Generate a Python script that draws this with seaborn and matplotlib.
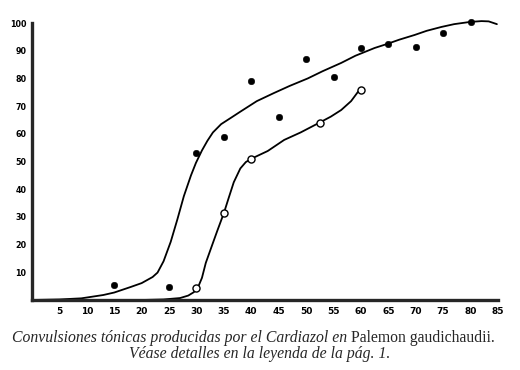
import numpy as np
import pandas as pd
import matplotlib
matplotlib.use('Agg')
import matplotlib.pyplot as plt
import seaborn as sns

# puntos observados (circulos llenos)
dose_full = [15, 25, 30, 35, 40, 45, 50, 55, 60, 65, 70, 75, 80]
pct_full = [5.5, 4.8, 53, 59, 79, 66, 87, 80.5, 91, 92.5, 91.5, 96.5, 100.5]

# puntos observados (circulos abiertos)
dose_open = [30, 35, 40, 52.5, 60]
pct_open = [4.2, 31.5, 51, 64, 76]

# curva trazada a mano (serie llena)
curve_full_x = [0, 5, 9, 13, 15, 18, 20, 22, 22.9, 24, 25.3, 26.5, 27.7, 29, 29.9, 31, 32,
                33, 34.5, 36.3, 38, 41, 44.1, 47, 50.3, 53, 56.4, 59, 62.5, 64.7, 67,
                69.8, 72, 74.7, 77, 79.9, 82, 83.3, 84.8]
curve_full_y = [0, 0.2, 0.6, 1.8, 2.7, 4.7, 6.1, 8.3, 9.9, 14, 21, 29, 37.5, 45, 49.5, 54, 57.5,
                60.5, 63.5, 65.8, 68, 71.8, 74.7, 77.3, 80, 82.6, 85.6, 88.2, 91, 92.4, 94,
                95.7, 97.2, 98.6, 99.6, 100.4, 100.7, 100.6, 99.6]

# curva trazada a mano (serie abierta)
curve_open_x = [0, 10, 20, 24, 27, 28.5, 29.5, 30.2, 31, 31.7, 33, 33.8, 35, 35.9, 36.8,
                38, 39, 40, 43, 46, 49, 52.4, 54.5, 56.4, 58.2, 59.7]
curve_open_y = [0, 0, 0, 0.2, 0.7, 1.6, 2.8, 4.2, 8, 13.4, 20.6, 25, 31.4, 37, 42.5,
                47.5, 49.8, 51, 53.8, 57.8, 60.5, 64, 66.2, 68.6, 71.8, 75.8]

x_ticks = [5, 10, 15, 20, 25, 30, 35, 40, 45, 50, 55, 60, 65, 70, 75, 80, 85]
y_ticks = [10, 20, 30, 40, 50, 60, 70, 80, 90, 100]

sns.set_style('white')
plt.rcParams['font.family'] = ['DejaVu Sans']

fig = plt.figure(figsize=(5.2, 3.7), dpi=100)
ax = fig.add_axes([32 / 520, 70 / 370, 466 / 520, 282.5 / 370])

df_cf = pd.DataFrame({'x': curve_full_x, 'y': curve_full_y})
df_co = pd.DataFrame({'x': curve_open_x, 'y': curve_open_y})
sns.lineplot(data=df_cf, x='x', y='y', ax=ax, color='black', lw=1.3, sort=False,
             estimator=None, clip_on=False)
sns.lineplot(data=df_co, x='x', y='y', ax=ax, color='black', lw=1.3, sort=False,
             estimator=None, clip_on=False)

sns.scatterplot(x=dose_full, y=pct_full, ax=ax, color='black', s=22,
                edgecolor='black', zorder=5, clip_on=False)
sns.scatterplot(x=dose_open, y=pct_open, ax=ax, color='white', s=26,
                edgecolor='black', linewidth=1.0, zorder=6, clip_on=False)

ax.set_xlim(0, 85)
ax.set_ylim(0, 102)
ax.set_xlabel('')
ax.set_ylabel('')
for s in ['top', 'right']:
    ax.spines[s].set_visible(False)
ax.spines['left'].set_linewidth(2.4)
ax.spines['bottom'].set_linewidth(2.4)
ax.spines['left'].set_bounds(0, 100)
ax.spines['bottom'].set_bounds(0, 85)

ax.set_xticks(x_ticks)
ax.set_xticklabels([str(v) for v in x_ticks])
ax.set_yticks(y_ticks)
ax.set_yticklabels([str(v) for v in y_ticks])
ax.tick_params(axis='x', direction='in', length=3, width=1.2, pad=5,
               labelsize=6.5, colors='black')
ax.tick_params(axis='y', direction='inout', length=4, width=1.2, pad=2,
               labelsize=5.8, colors='black')
for lab in ax.get_xticklabels() + ax.get_yticklabels():
    lab.set_fontweight('bold')

# pie de figura
serif = ['Liberation Serif', 'DejaVu Serif']
t1 = fig.text(12 / 520, 1 - 338 / 370,
              'Convulsiones tónicas producidas por el Cardiazol en ',
              ha='left', va='center', fontsize=11.3, style='italic', family=serif)
ax.annotate('Palemon gaudichaudii.', xy=(1, 0), xycoords=t1, va='bottom',
            ha='left', fontsize=11.3, family=serif, annotation_clip=False)
fig.text(0.5, 1 - 354 / 370, 'Véase detalles en la leyenda de la pág. 1.',
         ha='center', va='center', fontsize=11.3, style='italic', family=serif)

fig.savefig('out.png', dpi=100)
